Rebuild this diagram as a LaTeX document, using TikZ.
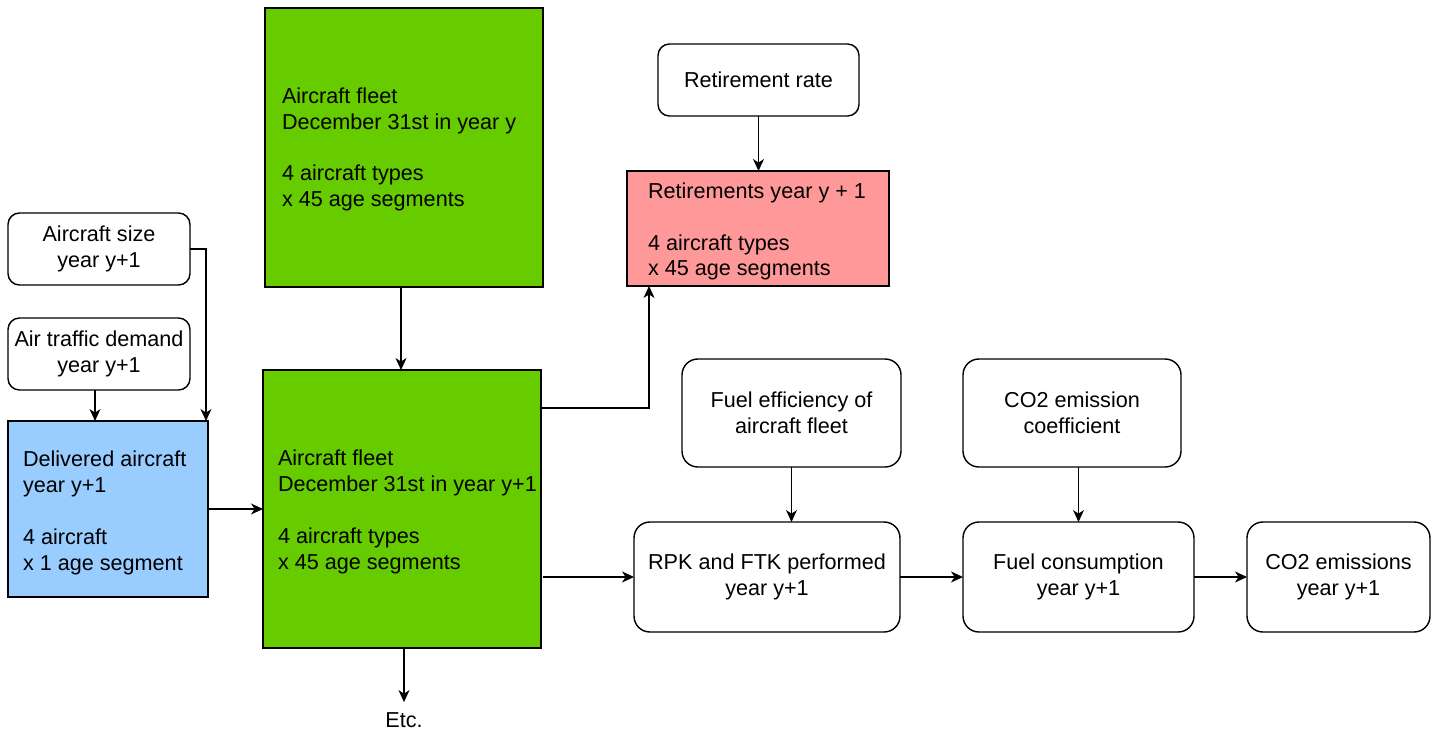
\documentclass[tikz,border=0pt]{standalone}
\usepackage{fontspec}
\setmainfont{Liberation Sans}
\usetikzlibrary{arrows.meta}
\definecolor{fleetgreen}{HTML}{66CC00}
\definecolor{delblue}{HTML}{99CCFF}
\definecolor{retpink}{HTML}{FF9999}
\tikzset{
  base/.style={draw=black, line width=0.8pt, inner sep=0pt, outer sep=0pt,
    font=\fontsize{12.3}{14.74}\selectfont, align=center},
  rbox/.style={base, rounded corners=6.5pt},
  rboxL/.style={base, rounded corners=9pt},
  sbox/.style={base},
  ltxt/.style={inner sep=0pt, outer sep=0pt, anchor=west, align=left,
    font=\fontsize{12.3}{14.74}\selectfont},
  arr/.style={draw=black, line width=0.8pt, -{Stealth[length=6.8pt, width=6.2pt, inset=2pt]}},
}
\begin{document}
\begin{tikzpicture}[x=0.02cm, y=-0.02cm]
\useasboundingbox (0,0) rectangle (1440,733);
% left column
\node[rbox, minimum width=3.64cm, minimum height=1.44cm] (size) at (99,249) {Aircraft size\\year y+1};
\node[rbox, minimum width=3.64cm, minimum height=1.44cm] (demand) at (99,354) {Air traffic demand\\year y+1};
\node[sbox, fill=delblue, minimum width=4.0cm, minimum height=3.52cm] (deliv) at (108,509) {};
\node[ltxt] (delivt) at ([xshift=0.3cm, yshift=-0.08cm]deliv.west) {Delivered aircraft\\year y+1\\[14.74pt]4 aircraft\\x 1 age segment};
% fleets
\node[sbox, fill=fleetgreen, minimum width=5.56cm, minimum height=5.58cm] (fleetA) at (404,147.5) {};
\node[ltxt] (fleetAt) at ([xshift=0.34cm, yshift=-0.04cm]fleetA.west) {Aircraft fleet\\December 31st in year y\\[14.74pt]4 aircraft types\\x 45 age segments};
\node[sbox, fill=fleetgreen, minimum width=5.56cm, minimum height=5.56cm] (fleetB) at (402,509) {};
\node[ltxt] (fleetBt) at ([xshift=0.3cm, yshift=-0.06cm]fleetB.west) {Aircraft fleet\\December 31st in year y+1\\[14.74pt]4 aircraft types\\x 45 age segments};
% retirements
\node[rbox, minimum width=4.02cm, minimum height=1.44cm] (retrate) at (758.5,80) {Retirement rate};
\node[sbox, fill=retpink, minimum width=5.24cm, minimum height=2.30cm] (retire) at (758,228.5) {};
\node[ltxt] (retiret) at ([xshift=0.42cm, yshift=-0.06cm]retire.west) {Retirements year y + 1\\[14.74pt]4 aircraft types\\x 45 age segments};
% right chain
\node[rboxL, minimum width=4.38cm, minimum height=2.16cm] (fueleff) at (791.5,413) {Fuel efficiency of\\aircraft fleet};
\node[rboxL, minimum width=4.36cm, minimum height=2.16cm] (co2c) at (1072,413) {CO2 emission\\coefficient};
\node[rboxL, minimum width=5.32cm, minimum height=2.20cm] (rpk) at (767,577) {RPK and FTK performed\\year y+1};
\node[rboxL, minimum width=4.62cm, minimum height=2.20cm] (fuelc) at (1078.5,577) {Fuel consumption\\year y+1};
\node[rboxL, minimum width=3.66cm, minimum height=2.20cm] (co2e) at (1338.5,577) {CO2 emissions\\year y+1};
\node[inner sep=0pt, font=\fontsize{12.3}{14.74}\selectfont] (etc) at (404,720) {Etc.};
% connectors
\draw[arr] (size.east) -| ([xshift=-0.04cm]deliv.north east);
\draw[arr] ([xshift=-0.08cm]demand.south) -- ([xshift=-0.08cm]demand.south |- deliv.north);
\draw[arr] (deliv.east) -- (deliv.east -| fleetB.west);
\draw[arr] (fleetA.south -| etc.north) ++(-3,0) coordinate (fa) -- (fa |- fleetB.north);
\draw[arr] ([yshift=-0.76cm]fleetB.north east) -| ([xshift=0.44cm]retire.south west);
\draw[arr] (retrate.south) -- (retrate.south |- retire.north);
\draw[arr] ([xshift=0.04cm]rpk.west -| fleetB.east) -- (rpk.west);
\draw[arr] (fueleff.south) -- (fueleff.south |- rpk.north);
\draw[arr] (fuelc.north |- co2c.south) -- (fuelc.north);
\draw[arr] (rpk.east) -- (fuelc.west);
\draw[arr] (fuelc.east) -- (co2e.west);
\draw[arr] (fleetB.south -| etc.north) -- ([yshift=0.2cm]etc.north);
\end{tikzpicture}
\end{document}
